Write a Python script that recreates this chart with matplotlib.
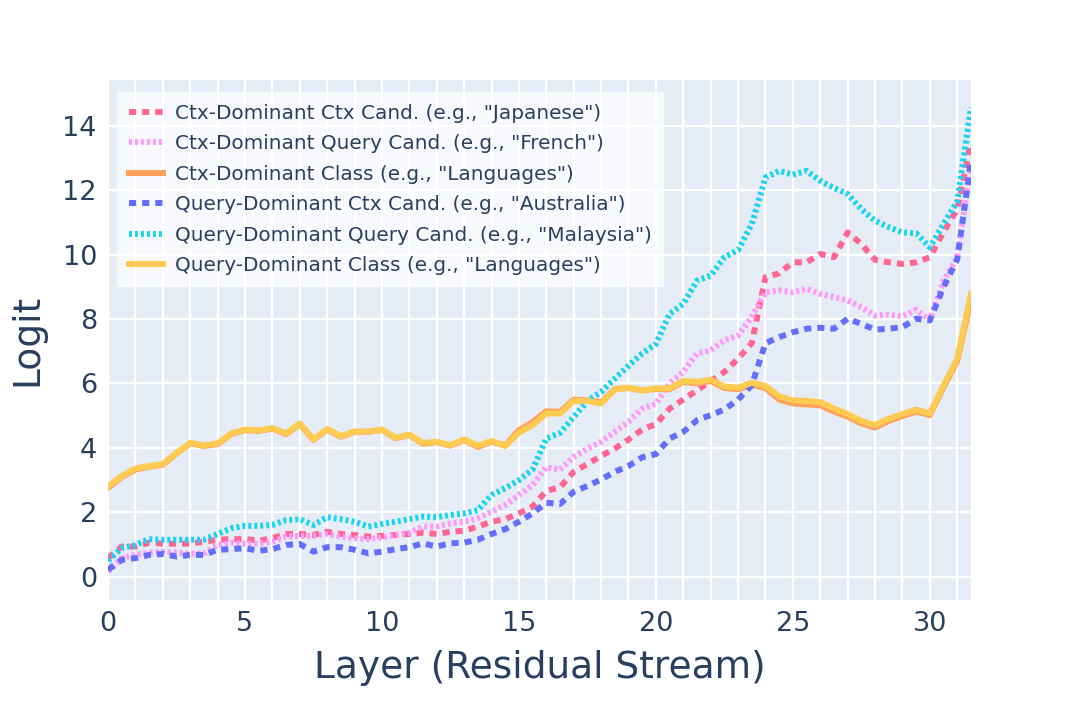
import matplotlib
matplotlib.use("Agg")
import matplotlib.pyplot as plt
import numpy as np
from matplotlib.ticker import MultipleLocator

# residual stream positions (every half layer)
layers = np.arange(0, 32, 0.5)

ctx_ctx_cand = [0.58, 0.94, 0.94, 1.06, 1.03, 1.03, 1.03, 1.09, 1.15, 1.17, 1.17, 1.12, 1.20, 1.33, 1.33, 1.30,
                1.40, 1.33, 1.30, 1.25, 1.27, 1.30, 1.33, 1.37, 1.33, 1.40, 1.43, 1.56, 1.71, 1.79, 1.97, 2.18,
                2.67, 2.78, 3.26, 3.50, 3.75, 3.98, 4.26, 4.57, 4.74, 5.22, 5.50, 5.79, 6.08, 6.36, 6.77, 7.25,
                9.30, 9.42, 9.76, 9.76, 10.02, 9.92, 10.69, 10.33, 9.84, 9.76, 9.71, 9.76, 9.92, 10.70, 11.41, 13.50]
ctx_query_cand = [0.16, 0.58, 0.68, 0.75, 0.78, 0.75, 0.71, 0.73, 0.99, 1.06, 1.03, 1.03, 1.09, 1.25, 1.27, 1.27,
                  1.33, 1.25, 1.20, 1.17, 1.22, 1.30, 1.37, 1.56, 1.56, 1.66, 1.71, 1.82, 2.02, 2.23, 2.54, 2.85,
                  3.40, 3.33, 3.72, 3.98, 4.19, 4.50, 4.81, 5.22, 5.37, 6.00, 6.36, 6.93, 7.03, 7.34, 7.49, 8.06,
                  8.83, 8.89, 8.83, 8.94, 8.78, 8.68, 8.58, 8.37, 8.11, 8.14, 8.08, 8.29, 7.96, 9.19, 9.92, 12.80]
ctx_class = [2.76, 3.10, 3.33, 3.42, 3.48, 3.83, 4.14, 4.06, 4.12, 4.43, 4.55, 4.53, 4.60, 4.43, 4.74, 4.25,
             4.57, 4.35, 4.50, 4.50, 4.56, 4.30, 4.40, 4.13, 4.18, 4.07, 4.25, 4.03, 4.20, 4.08, 4.55, 4.80,
             5.14, 5.12, 5.50, 5.48, 5.42, 5.82, 5.86, 5.78, 5.83, 5.82, 6.05, 6.00, 6.08, 5.86, 5.82, 5.96,
             5.86, 5.50, 5.38, 5.35, 5.32, 5.13, 4.97, 4.76, 4.63, 4.84, 4.99, 5.13, 5.02, 5.88, 6.70, 8.60]
query_ctx_cand = [0.22, 0.53, 0.58, 0.68, 0.71, 0.63, 0.68, 0.68, 0.84, 0.86, 0.89, 0.81, 0.86, 0.99, 1.02, 0.78,
                  0.92, 0.92, 0.84, 0.73, 0.78, 0.86, 0.92, 1.04, 0.94, 1.04, 1.06, 1.15, 1.33, 1.48, 1.71, 1.97,
                  2.30, 2.26, 2.64, 2.82, 3.02, 3.26, 3.44, 3.71, 3.81, 4.29, 4.50, 4.86, 5.02, 5.19, 5.50, 5.95,
                  7.25, 7.44, 7.59, 7.70, 7.73, 7.70, 8.01, 7.85, 7.67, 7.70, 7.75, 8.01, 7.96, 8.99, 9.85, 12.90]
query_query_cand = [0.50, 0.89, 0.99, 1.17, 1.15, 1.15, 1.15, 1.15, 1.33, 1.51, 1.58, 1.58, 1.61, 1.76, 1.79, 1.61,
                    1.85, 1.79, 1.71, 1.56, 1.64, 1.71, 1.79, 1.87, 1.85, 1.92, 1.97, 2.07, 2.54, 2.75, 3.00, 3.33,
                    4.29, 4.47, 4.96, 5.46, 5.74, 6.15, 6.55, 6.93, 7.23, 8.16, 8.47, 9.19, 9.35, 9.92, 10.14, 10.95,
                    12.39, 12.60, 12.48, 12.60, 12.29, 12.07, 11.88, 11.41, 11.05, 10.85, 10.69, 10.66, 10.23, 10.95, 11.65, 14.56]
query_class = [2.80, 3.13, 3.36, 3.44, 3.50, 3.85, 4.16, 4.08, 4.14, 4.45, 4.57, 4.55, 4.61, 4.45, 4.76, 4.26,
               4.59, 4.37, 4.51, 4.51, 4.57, 4.32, 4.41, 4.16, 4.19, 4.09, 4.26, 4.07, 4.22, 4.06, 4.47, 4.71,
               5.07, 5.07, 5.46, 5.46, 5.38, 5.81, 5.87, 5.79, 5.85, 5.85, 6.08, 6.05, 6.12, 5.91, 5.87, 6.02,
               5.93, 5.60, 5.48, 5.46, 5.42, 5.22, 5.05, 4.84, 4.71, 4.91, 5.05, 5.19, 5.07, 5.94, 6.77, 8.78]

labels = [
    'Ctx-Dominant Ctx Cand. (e.g., "Japanese")',
    'Ctx-Dominant Query Cand. (e.g., "French")',
    'Ctx-Dominant Class (e.g., "Languages")',
    'Query-Dominant Ctx Cand. (e.g., "Australia")',
    'Query-Dominant Query Cand. (e.g., "Malaysia")',
    'Query-Dominant Class (e.g., "Languages")',
]
series = [ctx_ctx_cand, ctx_query_cand, ctx_class, query_ctx_cand, query_query_cand, query_class]
colors = ['#FF6692', '#FF97FF', '#FFA15A', '#636EFA', '#19D3F3', '#FECB52']
dashes = [(1.2, 1.0), (0.5, 0.5), None, (1.2, 1.0), (0.5, 0.5), None]

text_color = '#2a3f5f'
plt.rcParams['font.family'] = 'DejaVu Sans'

fig = plt.figure(figsize=(10.8, 7.09), dpi=100)
ax = fig.add_axes([0.1, 0.1537, 0.799, 0.7335])
ax.set_facecolor('#E5ECF6')

for vals, lab, col, d in zip(series, labels, colors, dashes):
    line, = ax.plot(layers, vals, color=col, linewidth=4.3, label=lab)
    if d is not None:
        line.set_dashes(d)
        line.set_dash_capstyle('butt')
    else:
        line.set_solid_joinstyle('round')

ax.set_xlim(0, 31.5)
ax.set_ylim(-0.72, 15.42)

ax.xaxis.set_major_locator(MultipleLocator(5))
ax.xaxis.set_minor_locator(MultipleLocator(1))
ax.yaxis.set_major_locator(MultipleLocator(2))
ax.grid(True, which='both', axis='x', color='white', linewidth=1.6)
ax.grid(True, which='major', axis='y', color='white', linewidth=1.6)
ax.set_axisbelow(True)

for spine in ax.spines.values():
    spine.set_visible(False)
ax.tick_params(axis='both', which='both', length=0, labelsize=19.5, labelcolor=text_color)
ax.tick_params(axis='x', pad=8)
ax.tick_params(axis='y', pad=8)

ax.set_xlabel('Layer (Residual Stream)', fontsize=27, color=text_color, labelpad=9)
ax.set_ylabel('Logit', fontsize=27, color=text_color, labelpad=12)

leg = ax.legend(loc='upper left', bbox_to_anchor=(0.0105, 0.977), fontsize=14.4,
                handlelength=1.7, handletextpad=0.6, labelspacing=0.57, borderpad=0.6,
                borderaxespad=0, fancybox=False, frameon=True)
leg.get_frame().set_facecolor('white')
leg.get_frame().set_alpha(0.7)
leg.get_frame().set_edgecolor('none')
for t in leg.get_texts():
    t.set_color(text_color)

fig.savefig('out.png', dpi=100)
